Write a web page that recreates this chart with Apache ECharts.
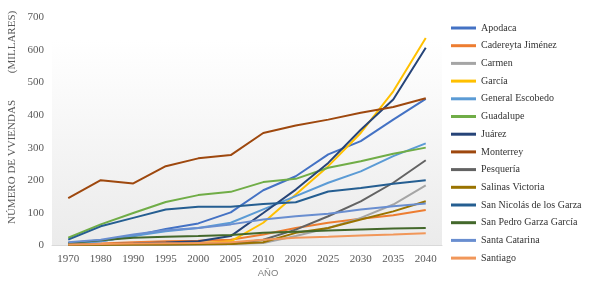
<!DOCTYPE html>
<html>
<head>
<meta charset="utf-8">
<script src="https://cdn.jsdelivr.net/npm/echarts@6/dist/echarts.min.js"></script>
<style>html,body{margin:0;padding:0;background:#fff;}#c{width:589px;height:285px;}</style>
</head>
<body>
<div id="c"></div>
<script>
const years = ['1970','1980','1990','1995','2000','2005','2010','2020','2025','2030','2035','2040'];
const yTicks = [0,100,200,300,400,500,600,700];

const apodaca        = [7, 12, 28, 50, 67, 101, 169, 212, 279, 320, 386, 450];
const cadereyta      = [4, 5, 9, 12, 14, 17, 33, 53, 69, 81, 92, 108];
const carmen         = [1, 1, 2, 2, 3, 4, 7, 28, 53, 84, 125, 184];
const garcia         = [2, 2, 3, 4, 6, 12, 69, 156, 243, 345, 473, 637];
const escobedo       = [5, 12, 28, 43, 53, 69, 110, 151, 192, 227, 274, 313];
const guadalupe      = [23, 64, 99, 133, 154, 164, 194, 204, 238, 258, 281, 300];
const juarez         = [2, 3, 5, 8, 12, 28, 99, 171, 253, 355, 448, 607];
const monterrey      = [145, 200, 190, 243, 267, 277, 345, 368, 386, 407, 425, 452];
const pesqueria      = [1, 1, 2, 2, 3, 4, 17, 48, 89, 135, 192, 261];
const salinas        = [1, 1, 2, 2, 3, 4, 9, 38, 53, 79, 104, 135];
const sanNicolas     = [17, 58, 84, 110, 118, 118, 127, 132, 165, 176, 189, 200];
const sanPedro       = [7, 15, 23, 26, 28, 31, 38, 41, 45, 48, 51, 53];
const santaCatarina  = [9, 17, 33, 46, 53, 64, 79, 89, 97, 110, 120, 128];
const santiago       = [2, 4, 5, 6, 7, 9, 17, 23, 26, 30, 33, 37];

const seriesDefs = [
  ['Apodaca', apodaca, '#4472C4'],
  ['Cadereyta Jiménez', cadereyta, '#ED7D31'],
  ['Carmen', carmen, '#A5A5A5'],
  ['García', garcia, '#FFC000'],
  ['General Escobedo', escobedo, '#5B9BD5'],
  ['Guadalupe', guadalupe, '#70AD47'],
  ['Juárez', juarez, '#264478'],
  ['Monterrey', monterrey, '#9E480E'],
  ['Pesquería', pesqueria, '#636363'],
  ['Salinas Victoria', salinas, '#997300'],
  ['San Nicolás de los Garza', sanNicolas, '#255E91'],
  ['San Pedro Garza García', sanPedro, '#43682B'],
  ['Santa Catarina', santaCatarina, '#698ED0'],
  ['Santiago', santiago, '#F1975A']
];

const chart = echarts.init(document.getElementById('c'), null, {renderer:'canvas'});
const serif = "'Liberation Serif', 'DejaVu Serif', serif";
chart.setOption({
  animation: false,
  color: seriesDefs.map(s => s[2]),
  grid: {
    left: 52, right: 147, top: 17.5, bottom: 39.8,
    show: true, borderWidth: 0,
    backgroundColor: {
      type: 'linear', x: 0, y: 0, x2: 0, y2: 1,
      colorStops: [
        {offset: 0, color: '#ffffff'},
        {offset: 0.1, color: '#ffffff'},
        {offset: 1, color: '#ebebeb'}
      ]
    }
  },
  legend: {
    orient: 'vertical',
    left: 446, top: 17,
    itemWidth: 25, itemHeight: 3, itemGap: 5.7,
    icon: 'path://M0,0 L25,0 L25,3 L0,3 Z',
    data: seriesDefs.map(s => s[0]),
    textStyle: {fontFamily: serif, fontSize: 10, color: '#333333', lineHeight: 12}
  },
  xAxis: {
    type: 'category',
    data: years,
    boundaryGap: true,
    axisLine: {show: true, lineStyle: {color: '#d9d9d9', width: 1}},
    axisTick: {show: false},
    axisLabel: {fontFamily: serif, fontSize: 11, color: '#595959', margin: 8},
    splitLine: {show: false}
  },
  yAxis: {
    type: 'value',
    min: yTicks[0], max: yTicks[yTicks.length-1], interval: 100,
    axisLine: {show: false},
    axisTick: {show: false},
    axisLabel: {fontFamily: serif, fontSize: 11, color: '#595959', margin: 8},
    splitLine: {show: false}
  },
  graphic: [
    {type: 'text', x: 7, y: 162, rotation: Math.PI/2, style: {text: 'NÚMERO DE VVIENDAS', fontFamily: serif, fontSize: 11, fill: '#595959', align: 'center', verticalAlign: 'top'}},
    {type: 'text', x: 7, y: 42, rotation: Math.PI/2, style: {text: '(MILLARES)', fontFamily: serif, fontSize: 11, fill: '#595959', align: 'center', verticalAlign: 'top'}},
    {type: 'text', x: 268, y: 273, style: {text: 'AÑO', fontFamily: "'Liberation Sans', sans-serif", fontSize: 9.5, fill: '#7f7f7f', align: 'center', verticalAlign: 'middle'}}
  ],
  series: seriesDefs.map(s => ({
    name: s[0], type: 'line', data: s[1], symbol: 'none', smooth: false,
    lineStyle: {width: 2, color: s[2]}, itemStyle: {color: s[2]}
  }))
});
</script>
</body>
</html>
